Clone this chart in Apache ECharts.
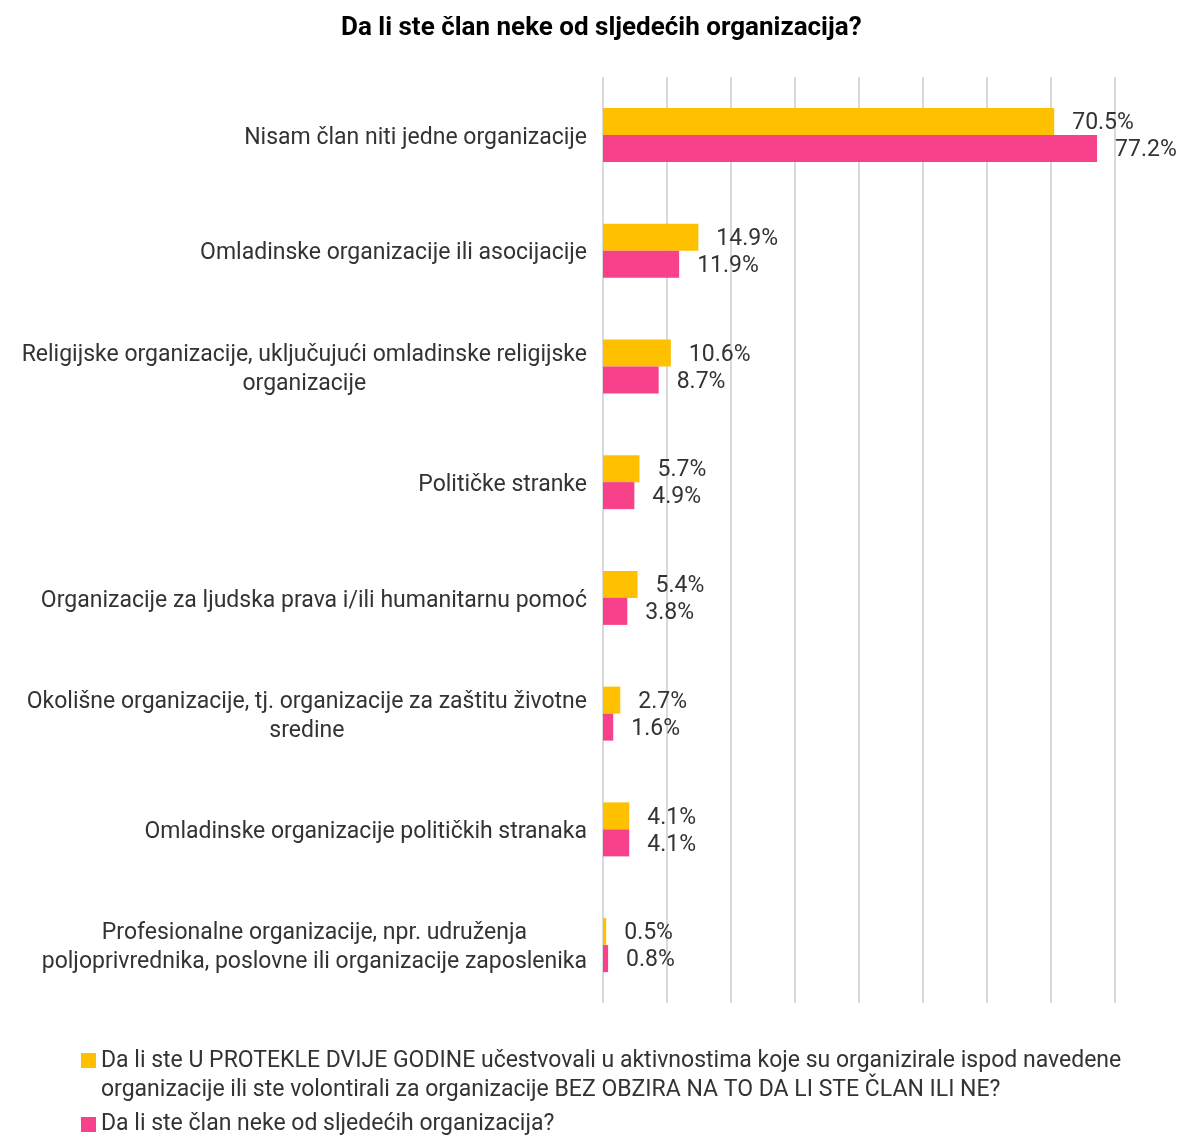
<!DOCTYPE html>
<html>
<head>
<meta charset="utf-8">
<script src="https://cdn.jsdelivr.net/npm/echarts@6/dist/echarts.min.js"></script>
<style>
  html, body { margin: 0; padding: 0; background: #fff; }
  #main { width: 1177px; height: 1135px; }
</style>
</head>
<body>
<div id="main"></div>
<script>
var categories = [
  'Nisam član niti jedne organizacije',
  'Omladinske organizacije ili asocijacije',
  'Religijske organizacije, uključujući omladinske religijske\norganizacije',
  'Političke stranke',
  'Organizacije za ljudska prava i/ili humanitarnu pomoć',
  'Okolišne organizacije, tj. organizacije za zaštitu životne\nsredine',
  'Omladinske organizacije političkih stranaka',
  'Profesionalne organizacije, npr. udruženja\npoljoprivrednika, poslovne ili organizacije zaposlenika'
];
var participated = [70.5, 14.9, 10.6, 5.7, 5.4, 2.7, 4.1, 0.5];
var member = [77.2, 11.9, 8.7, 4.9, 3.8, 1.6, 4.1, 0.8];

var nameParticipated = 'Da li ste U PROTEKLE DVIJE GODINE učestvovali u aktivnostima koje su organizirale ispod navedene organizacije ili ste volontirali za organizacije BEZ OBZIRA NA TO DA LI STE ČLAN ILI NE?';
var nameMember = 'Da li ste član neke od sljedećih organizacija?';

var font = 'Roboto';
var chart = echarts.init(document.getElementById('main'));

var barLabel = {
  show: true,
  position: 'right',
  distance: 18,
  offset: [0, 2],
  color: '#333',
  fontFamily: font,
  fontSize: 23,
  formatter: function (p) { return p.value.toFixed(1) + '%'; }
};

var option = {
  animation: false,
  title: {
    text: 'Da li ste član neke od sljedećih organizacija?',
    left: 336,
    top: 10,
    textStyle: { fontFamily: font, fontSize: 26, fontWeight: 'bold', color: '#000' }
  },
  legend: [{
    data: [nameParticipated],
    orient: 'vertical',
    left: 76,
    top: 1042,
    itemWidth: 15,
    itemHeight: 46,
    itemGap: 8,
    icon: 'path://M0,0 L15,0 L15,15 L0,15 Z M0,46 L0.001,46 L0,46.001 Z',
    formatter: function () {
      return 'Da li ste U PROTEKLE DVIJE GODINE učestvovali u aktivnostima koje su organizirale ispod navedene\norganizacije ili ste volontirali za organizacije BEZ OBZIRA NA TO DA LI STE ČLAN ILI NE?';
    },
    textStyle: { fontFamily: font, fontSize: 23, color: '#333', lineHeight: 29 }
  }, {
    data: [nameMember],
    orient: 'vertical',
    left: 76,
    top: 1108,
    itemWidth: 15,
    itemHeight: 15,
    itemGap: 8,
    icon: 'rect',
    textStyle: { fontFamily: font, fontSize: 23, color: '#333' }
  }],
  grid: { left: 603, right: 62, top: 77, bottom: 132 },
  xAxis: {
    type: 'value',
    min: 0,
    max: 80,
    interval: 10,
    axisLabel: { show: false },
    axisLine: { show: false },
    axisTick: { show: false },
    splitLine: { lineStyle: { color: '#d9d9d9', width: 2 } }
  },
  yAxis: {
    type: 'category',
    inverse: true,
    data: categories,
    axisLine: { show: false },
    axisTick: { show: false },
    axisLabel: {
      margin: 16,
      align: 'right',
      padding: [6, 0, 0, 0],
      formatter: function (v) {
        return v.split('\n').map(function (s) { return '{c|' + s + '}'; }).join('\n');
      },
      rich: {
        c: { align: 'center', fontFamily: font, fontSize: 23, color: '#333', lineHeight: 29 }
      }
    }
  },
  series: [{
    name: nameParticipated,
    type: 'bar',
    data: participated,
    barWidth: 27,
    barGap: '0%',
    itemStyle: { color: '#FFC000' },
    label: barLabel
  }, {
    name: nameMember,
    type: 'bar',
    data: member,
    barWidth: 27,
    barGap: '0%',
    itemStyle: { color: '#F7418A' },
    label: barLabel
  }]
};

chart.setOption(option);
</script>
</body>
</html>
